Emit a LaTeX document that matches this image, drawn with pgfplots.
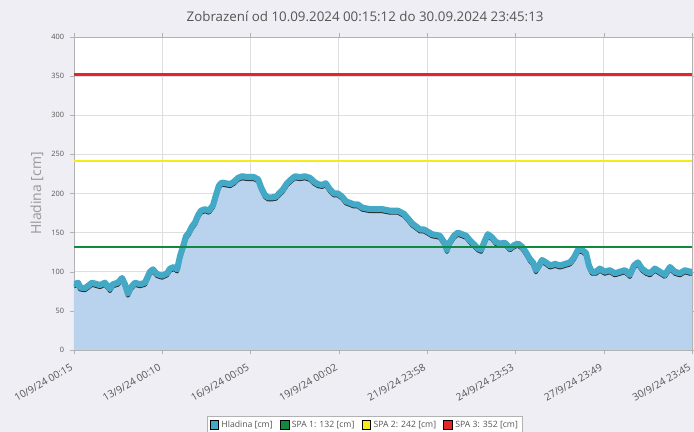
\documentclass[border=0pt]{standalone}
\usepackage{fontspec}
\setmainfont{Open Sans}
\usepackage{pgfplots}
\usepackage{pgfplotstable}
\pgfplotsset{compat=1.18}
\definecolor{bgc}{HTML}{EEEEF4}
\definecolor{areac}{HTML}{B9D3EE}
\definecolor{linec}{HTML}{43A9C6}
\definecolor{spa1}{HTML}{13893F}
\definecolor{spa2}{HTML}{F3EC1A}
\definecolor{spa3}{HTML}{E4262B}
\definecolor{txt}{HTML}{555555}

\pgfplotstableread{
d v
0 84
0.14 86
0.20 80
0.37 79
0.48 82
0.61 86
0.88 83
1.05 86
1.22 78
1.32 84
1.49 86
1.63 92
1.73 84
1.83 72
1.93 80
2.07 86
2.24 84
2.41 86
2.58 100
2.68 103
2.82 97
2.99 95
3.16 98
3.26 104
3.39 106
3.50 103
3.60 120
3.70 132
3.80 145
3.90 150
4.01 158
4.11 163
4.21 172
4.31 178
4.45 180
4.58 178
4.72 185
4.82 198
4.92 210
5.02 214
5.16 213
5.30 212
5.43 215
5.57 220
5.70 222
5.91 221
6.11 221
6.25 218
6.35 208
6.48 198
6.59 195
6.72 195
6.86 196
6.96 200
7.09 205
7.23 213
7.37 218
7.50 222
7.67 221
7.84 222
8.01 220
8.15 215
8.28 212
8.42 211
8.55 213
8.69 205
8.83 200
8.96 200
9.10 196
9.23 190
9.37 188
9.50 186
9.64 186
9.78 182
9.91 181
10.05 180
10.25 180
10.46 180
10.73 178
11.00 178
11.20 174
11.34 168
11.47 162
11.61 158
11.75 154
11.88 154
12.02 151
12.15 148
12.29 147
12.42 146
12.56 138
12.66 128
12.76 138
12.90 146
13.03 150
13.17 148
13.31 146
13.44 140
13.58 135
13.71 130
13.82 128
13.95 140
14.05 148
14.19 144
14.32 138
14.46 136
14.63 137
14.80 130
14.94 134
15.07 136
15.21 132
15.34 125
15.48 116
15.58 112
15.68 102
15.78 108
15.89 115
16.02 112
16.16 108
16.33 110
16.50 108
16.67 110
16.84 112
16.97 118
17.11 128
17.24 128
17.38 124
17.48 108
17.58 100
17.72 100
17.85 104
18.02 100
18.19 102
18.36 98
18.53 100
18.70 102
18.87 96
19.01 108
19.14 112
19.28 104
19.42 100
19.55 98
19.72 104
19.89 100
20.06 96
20.23 106
20.40 100
20.57 98
20.74 102
20.91 100
20.9792 100
}\hladina

\begin{document}
\begin{tikzpicture}
\useasboundingbox (-55.5pt,-61.5pt) rectangle (465pt,262.5pt);
\fill[bgc] (-55.5pt,-61.5pt) rectangle (465pt,262.5pt);
\begin{axis}[
  at={(0,0)}, anchor=south west,
  scale only axis, width=463.5pt, height=234.75pt,
  xmin=0, xmax=20.9792, ymin=0, ymax=400,
  ytick={0,50,...,400},
  xtick={0,2.9965,5.9931,8.9910,11.9882,14.9847,17.9819,20.9792},
  xticklabels={10/9/24 00:15,13/9/24 00:10,16/9/24 00:05,19/9/24 00:02,21/9/24 23:58,24/9/24 23:53,27/9/24 23:49,30/9/24 23:45},
  /pgf/number format/assume math mode=true,
  axis background/.style={fill=white},
  grid=major, grid style={gray!25, line width=0.6pt},
  axis line style={gray!60},
  tick align=outside, major tick length=3pt, tick style={gray!60},
  yticklabel style={font=\fontsize{5.5}{6}\selectfont, text=txt, xshift=-1pt},
  xticklabel style={font=\fontsize{7.6}{8}\selectfont, text=txt, rotate=30, anchor=north east, inner sep=1pt, xshift=-5pt, yshift=-3pt},
  title={Zobrazení od 10.09.2024 00:15:12 do 30.09.2024 23:45:13},
  title style={at={(axis description cs:0.471,1)}, anchor=south, font=\fontsize{10}{12}\selectfont, text=txt, yshift=2pt},
  ylabel={Hladina [cm]},
  every axis y label/.style={at={(axis description cs:-0.0599,0.5)}, rotate=90, anchor=center, font=\fontsize{10.5}{12}\selectfont, text=gray!80},
  legend style={at={(axis description cs:0.471,-0.24)}, anchor=center, legend columns=4, draw=gray!60, fill=white,
    font=\fontsize{6.5}{7}\selectfont, text=txt, inner sep=1.5pt,
    /tikz/every even column/.append style={column sep=3.5pt}},
  legend image code/.code={\fill[#1] (0pt,-3pt) rectangle (6.5pt,3.5pt);},
]
\addplot[fill=areac, draw=none, forget plot] table[x=d,y=v] {\hladina} \closedcycle;
\addplot[black!85, line width=3pt, yshift=-1.5pt, line join=round, forget plot] table[x=d,y=v] {\hladina};
\addplot[linec, line width=4.6pt, line join=round, line cap=round, forget plot] table[x=d,y=v] {\hladina};
\addplot[spa1, line width=1.6pt, forget plot] coordinates {(0,132) (20.9792,132)};
\addplot[spa2, line width=1.6pt, forget plot] coordinates {(0,242) (20.9792,242)};
\addplot[spa3, line width=1.6pt, forget plot] coordinates {(0,352) (20.9792,352)};
\addlegendimage{fill=linec}
\addlegendentry{Hladina [cm]}
\addlegendimage{fill=spa1}
\addlegendentry{SPA 1: 132 [cm]}
\addlegendimage{fill=spa2}
\addlegendentry{SPA 2: 242 [cm]}
\addlegendimage{fill=spa3}
\addlegendentry{SPA 3: 352 [cm]}
\end{axis}
\end{tikzpicture}
\end{document}
